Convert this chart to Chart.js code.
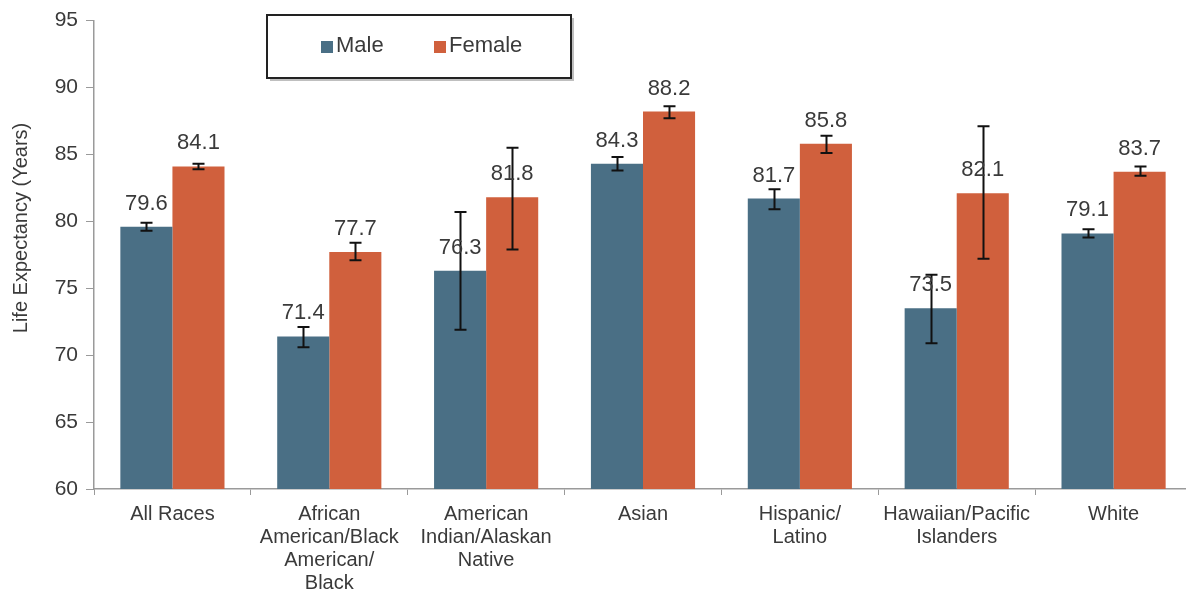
<!DOCTYPE html>
<html>
<head>
<meta charset="utf-8">
<script src="https://cdn.jsdelivr.net/npm/chart.js@4/dist/chart.umd.min.js"></script>
<style>
  html, body { margin: 0; padding: 0; background: #fff; overflow: hidden; }
  #wrap { width: 1186px; height: 595px; overflow: hidden; }
</style>
</head>
<body>
<div id="wrap"><canvas id="lifeChart" width="1192" height="595"></canvas></div>
<script>
// Life expectancy by race/ethnicity and sex, with confidence intervals
const categories = [
  "All Races",
  ["African", "American/Black", "American/", "Black"],
  ["American", "Indian/Alaskan", "Native"],
  "Asian",
  ["Hispanic/", "Latino"],
  ["Hawaiian/Pacific", "Islanders"],
  "White"
];
const maleValues = [79.6, 71.4, 76.3, 84.3, 81.7, 73.5, 79.1];
const femaleValues = [84.1, 77.7, 81.8, 88.2, 85.8, 82.1, 83.7];
const maleLow = [79.3, 70.6, 71.9, 83.8, 80.9, 70.9, 78.8];
const maleHigh = [79.9, 72.1, 80.7, 84.8, 82.4, 76.0, 79.4];
const femaleLow = [83.9, 77.1, 77.9, 87.7, 85.1, 77.2, 83.4];
const femaleHigh = [84.3, 78.4, 85.5, 88.6, 86.4, 87.1, 84.1];
const yTicks = [60, 65, 70, 75, 80, 85, 90, 95];
const yTitle = "Life Expectancy (Years)";

const MALE_COLOR = "#4a6f85";
const FEMALE_COLOR = "#d0603d";
const TEXT_COLOR = "#3a3a3a";
const AXIS_COLOR = "#9a9a9a";
const FONT = "'Liberation Sans', Arial, sans-serif";

const errorBars = {
  id: "errorBars",
  afterDatasetsDraw(chart) {
    const ctx = chart.ctx;
    const y = chart.scales.y;
    ctx.save();
    ctx.strokeStyle = "#111";
    ctx.lineWidth = 2;
    chart.data.datasets.forEach((ds, i) => {
      const meta = chart.getDatasetMeta(i);
      meta.data.forEach((bar, j) => {
        const top = y.getPixelForValue(ds.errHigh[j]);
        const bottom = y.getPixelForValue(ds.errLow[j]);
        const x = Math.round(bar.x) + 0.5;
        ctx.beginPath();
        ctx.moveTo(x, top);
        ctx.lineTo(x, bottom);
        ctx.moveTo(x - 6, top);
        ctx.lineTo(x + 6, top);
        ctx.moveTo(x - 6, bottom);
        ctx.lineTo(x + 6, bottom);
        ctx.stroke();
      });
    });
    ctx.restore();
  }
};

const valueLabels = {
  id: "valueLabels",
  afterDraw(chart) {
    const ctx = chart.ctx;
    ctx.save();
    ctx.font = "22px " + FONT;
    ctx.fillStyle = TEXT_COLOR;
    ctx.textAlign = "center";
    ctx.textBaseline = "alphabetic";
    chart.data.datasets.forEach((ds, i) => {
      chart.getDatasetMeta(i).data.forEach((bar, j) => {
        ctx.fillText(ds.data[j].toFixed(1), bar.x, bar.y - 17);
      });
    });
    ctx.restore();
  }
};

// y title drawn by hand: the original sits a little above the axis middle
const axisTitle = {
  id: "axisTitle",
  afterDraw(chart) {
    const ctx = chart.ctx;
    ctx.save();
    ctx.translate(21, 228);
    ctx.rotate(-Math.PI / 2);
    ctx.font = "20px " + FONT;
    ctx.fillStyle = TEXT_COLOR;
    ctx.textAlign = "center";
    ctx.textBaseline = "middle";
    ctx.fillText(yTitle, 0, 0);
    ctx.restore();
  }
};

const boxLegend = {
  id: "boxLegend",
  afterDraw(chart) {
    const ctx = chart.ctx;
    const left = 267, top = 15, w = 304, h = 63;
    ctx.save();
    ctx.fillStyle = "rgba(0,0,0,0.25)";
    ctx.fillRect(left + 3, top + 3, w, h);
    ctx.fillStyle = "#fff";
    ctx.fillRect(left, top, w, h);
    ctx.strokeStyle = "#222";
    ctx.lineWidth = 2;
    ctx.strokeRect(left, top, w, h);
    const items = [
      { x: 321, ds: chart.data.datasets[0] },
      { x: 434, ds: chart.data.datasets[1] }
    ];
    ctx.font = "22px " + FONT;
    ctx.textBaseline = "middle";
    ctx.textAlign = "left";
    items.forEach((it) => {
      ctx.fillStyle = it.ds.backgroundColor;
      ctx.fillRect(it.x, 41, 12, 12);
      ctx.fillStyle = TEXT_COLOR;
      ctx.fillText(it.ds.label, it.x + 15, 46);
    });
    ctx.restore();
  }
};

new Chart(document.getElementById("lifeChart"), {
  type: "bar",
  data: {
    labels: categories,
    datasets: [
      { label: "Male", data: maleValues, errLow: maleLow, errHigh: maleHigh, backgroundColor: MALE_COLOR },
      { label: "Female", data: femaleValues, errLow: femaleLow, errHigh: femaleHigh, backgroundColor: FEMALE_COLOR }
    ]
  },
  options: {
    responsive: false,
    animation: false,
    devicePixelRatio: 1,
    categoryPercentage: 0.664,
    barPercentage: 1,
    layout: { padding: { top: 18, right: 0, left: 0, bottom: 0 } },
    plugins: {
      legend: { display: false },
      tooltip: { enabled: false }
    },
    scales: {
      x: {
        grid: { drawOnChartArea: false, offset: true, tickLength: 6, color: AXIS_COLOR },
        border: { color: AXIS_COLOR, width: 1.5 },
        ticks: { color: TEXT_COLOR, font: { family: FONT, size: 20, lineHeight: 1.15 }, maxRotation: 0, autoSkip: false, padding: 8 },
        afterFit(scale) { scale.height = 106; }
      },
      y: {
        min: 60,
        max: 95,
        afterBuildTicks(scale) { scale.ticks = yTicks.map((v) => ({ value: v })); },
        grid: { drawOnChartArea: false, tickLength: 8, color: AXIS_COLOR },
        border: { color: AXIS_COLOR, width: 1.5 },
        ticks: { color: TEXT_COLOR, font: { family: FONT, size: 21 }, padding: 8 },
        afterFit(scale) { scale.width = 94; }
      }
    }
  },
  plugins: [errorBars, valueLabels, axisTitle, boxLegend]
});
</script>
</body>
</html>
